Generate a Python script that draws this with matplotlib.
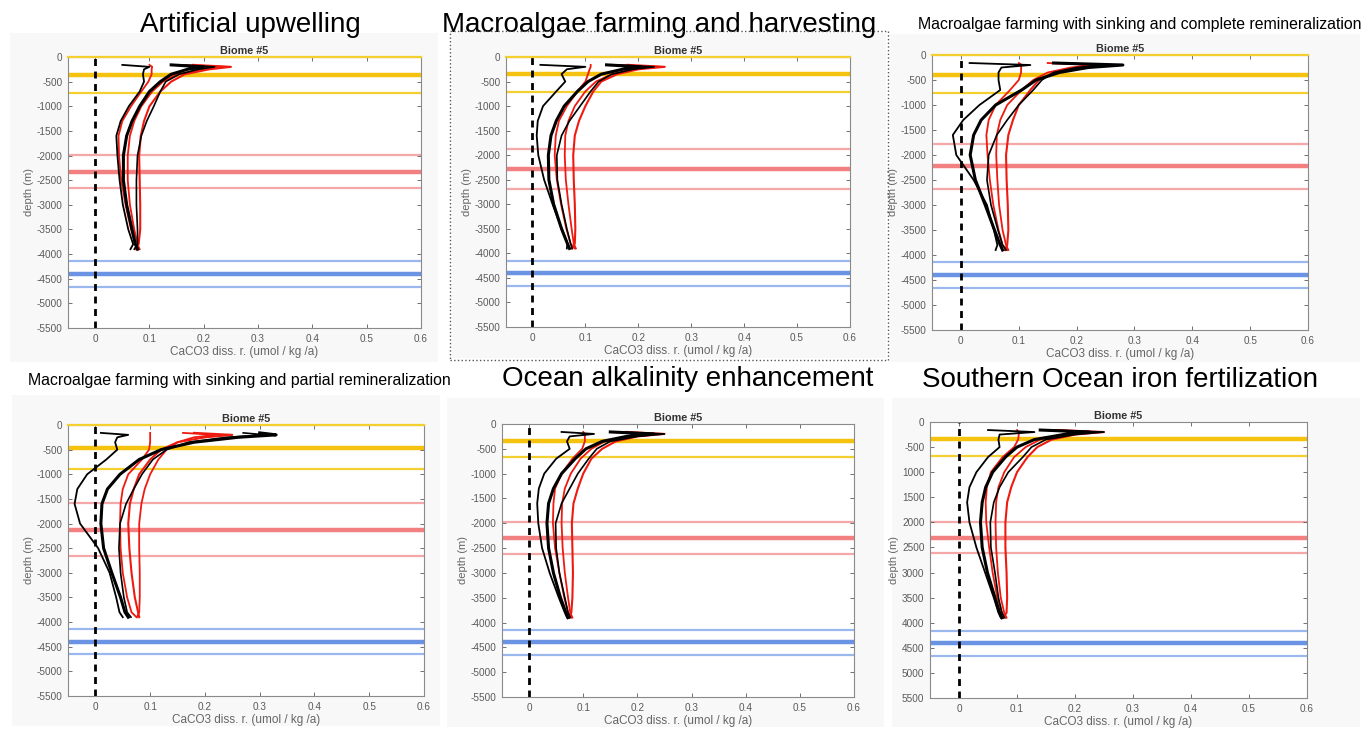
import matplotlib
matplotlib.use("Agg")
import matplotlib.pyplot as plt
from matplotlib.patches import Rectangle

plt.rcParams['font.family'] = ['Liberation Sans', 'DejaVu Sans']
plt.rcParams['axes.unicode_minus'] = False

# model depth levels (m) shared by every profile
DEPTH = [-160, -200, -250, -350, -500, -700, -1000, -1300, -1600,
         -2000, -2500, -3000, -3500, -3800, -3900]

# Artificial upwelling
AU_BLACK = [
    [0.05, 0.10, 0.09, 0.088, 0.09, 0.082, 0.062, 0.047, 0.039, 0.041, 0.045, 0.051, 0.061, 0.070, 0.065],
    [0.14, 0.20, 0.17, 0.14, 0.12, 0.10, 0.082, 0.068, 0.058, 0.052, 0.052, 0.058, 0.068, 0.074, 0.078],
    [0.15, 0.22, 0.19, 0.155, 0.13, 0.12, 0.108, 0.095, 0.085, 0.078, 0.076, 0.076, 0.078, 0.078, 0.072],
]
AU_RED = [
    [0.10, 0.105, 0.104, 0.104, 0.098, 0.085, 0.066, 0.05, 0.043, 0.044, 0.048, 0.056, 0.066, 0.074, 0.08],
    [0.18, 0.25, 0.21, 0.165, 0.14, 0.12, 0.10, 0.09, 0.084, 0.081, 0.082, 0.083, 0.083, 0.08, 0.075],
    [0.16, 0.24, 0.20, 0.15, 0.125, 0.105, 0.085, 0.072, 0.064, 0.06, 0.06, 0.064, 0.072, 0.078, 0.082],
]
AU_YELLOW = [0, -370, -730]
AU_PINK = [-1990, -2330, -2665]
AU_BLUE = [-4150, -4405, -4670]

# Macroalgae farming and harvesting
MFH_BLACK = [
    [0.015, 0.10, 0.065, 0.055, 0.062, 0.045, 0.02, 0.01, 0.008, 0.011, 0.022, 0.038, 0.055, 0.066, 0.065],
    [0.14, 0.205, 0.17, 0.13, 0.105, 0.085, 0.06, 0.045, 0.035, 0.03, 0.031, 0.04, 0.055, 0.066, 0.07],
    [0.15, 0.23, 0.19, 0.15, 0.125, 0.11, 0.09, 0.07, 0.055, 0.046, 0.047, 0.055, 0.065, 0.072, 0.075],
]
MFH_RED = [
    [0.11, 0.11, 0.108, 0.105, 0.10, 0.085, 0.065, 0.05, 0.044, 0.042, 0.046, 0.054, 0.064, 0.072, 0.08],
    [0.18, 0.25, 0.20, 0.16, 0.13, 0.115, 0.10, 0.088, 0.08, 0.077, 0.078, 0.08, 0.081, 0.08, 0.075],
    [0.15, 0.24, 0.19, 0.15, 0.12, 0.10, 0.08, 0.068, 0.062, 0.061, 0.063, 0.068, 0.074, 0.078, 0.082],
]
MFH_YELLOW = [0, -353, -720]
MFH_PINK = [-1880, -2275, -2680]
MFH_BLUE = [-4160, -4410, -4665]

# Macroalgae farming with sinking and complete remineralization
MSC_BLACK = [
    [0.015, 0.12, 0.07, 0.065, 0.065, 0.068, 0.032, 0.004, -0.014, -0.008, 0.022, 0.045, 0.057, 0.063, 0.06],
    [0.16, 0.28, 0.22, 0.17, 0.13, 0.105, 0.06, 0.035, 0.022, 0.016, 0.025, 0.042, 0.058, 0.068, 0.072],
    [0.17, 0.25, 0.20, 0.16, 0.14, 0.125, 0.10, 0.08, 0.062, 0.048, 0.045, 0.052, 0.064, 0.072, 0.078],
]
MSC_RED = [
    [0.10, 0.105, 0.104, 0.104, 0.10, 0.085, 0.06, 0.048, 0.044, 0.046, 0.05, 0.056, 0.065, 0.072, 0.08],
    [0.17, 0.24, 0.20, 0.16, 0.135, 0.12, 0.10, 0.09, 0.082, 0.078, 0.079, 0.081, 0.082, 0.08, 0.076],
    [0.15, 0.23, 0.19, 0.15, 0.125, 0.105, 0.08, 0.068, 0.062, 0.061, 0.063, 0.066, 0.072, 0.078, 0.082],
]
MSC_YELLOW = [0, -400, -767]
MSC_PINK = [-1780, -2213, -2673]
MSC_BLUE = [-4147, -4400, -4653]

# Macroalgae farming with sinking and partial remineralization
MSP_BLACK = [
    [0.01, 0.06, 0.04, 0.036, 0.04, 0.02, -0.015, -0.033, -0.038, -0.028, 0.005, 0.026, 0.038, 0.044, 0.05],
    [0.30, 0.33, 0.26, 0.18, 0.12, 0.08, 0.045, 0.022, 0.012, 0.01, 0.015, 0.03, 0.046, 0.054, 0.06],
    [0.27, 0.31, 0.24, 0.17, 0.13, 0.105, 0.085, 0.07, 0.056, 0.045, 0.043, 0.046, 0.052, 0.058, 0.065],
]
MSP_RED = [
    [0.10, 0.10, 0.10, 0.10, 0.098, 0.085, 0.06, 0.05, 0.046, 0.045, 0.046, 0.05, 0.058, 0.066, 0.075],
    [0.18, 0.25, 0.20, 0.15, 0.12, 0.10, 0.08, 0.07, 0.063, 0.06, 0.062, 0.066, 0.072, 0.078, 0.08],
    [0.16, 0.22, 0.18, 0.15, 0.13, 0.115, 0.10, 0.09, 0.084, 0.08, 0.08, 0.081, 0.081, 0.08, 0.076],
]
MSP_YELLOW = [0, -460, -893]
MSP_PINK = [-1590, -2131, -2652]
MSP_BLUE = [-4147, -4397, -4654]

# Ocean alkalinity enhancement
OAE_BLACK = [
    [0.06, 0.12, 0.075, 0.07, 0.075, 0.05, 0.028, 0.018, 0.015, 0.017, 0.024, 0.038, 0.055, 0.066, 0.07],
    [0.15, 0.23, 0.18, 0.135, 0.105, 0.085, 0.06, 0.045, 0.036, 0.033, 0.036, 0.045, 0.058, 0.068, 0.072],
    [0.16, 0.25, 0.20, 0.15, 0.125, 0.11, 0.09, 0.075, 0.06, 0.049, 0.05, 0.056, 0.066, 0.072, 0.076],
]
OAE_RED = [
    [0.10, 0.103, 0.103, 0.103, 0.098, 0.08, 0.06, 0.048, 0.045, 0.044, 0.048, 0.056, 0.065, 0.072, 0.078],
    [0.18, 0.25, 0.20, 0.16, 0.135, 0.115, 0.10, 0.09, 0.082, 0.079, 0.08, 0.081, 0.08, 0.078, 0.074],
    [0.15, 0.22, 0.18, 0.14, 0.115, 0.095, 0.077, 0.066, 0.061, 0.06, 0.062, 0.066, 0.072, 0.076, 0.08],
]
OAE_YELLOW = [-337, -673]
OAE_PINK = [-1966, -2289, -2625]
OAE_BLUE = [-4154, -4402, -4645]

# Southern Ocean iron fertilization
SOIF_BLACK = [
    [0.05, 0.13, 0.07, 0.068, 0.07, 0.05, 0.03, 0.018, 0.014, 0.018, 0.03, 0.045, 0.06, 0.068, 0.072],
    [0.14, 0.225, 0.18, 0.13, 0.10, 0.08, 0.058, 0.046, 0.04, 0.037, 0.04, 0.049, 0.062, 0.07, 0.074],
    [0.15, 0.25, 0.20, 0.15, 0.125, 0.11, 0.085, 0.07, 0.06, 0.054, 0.055, 0.062, 0.068, 0.074, 0.078],
]
SOIF_RED = [
    [0.10, 0.103, 0.103, 0.102, 0.095, 0.075, 0.055, 0.048, 0.046, 0.047, 0.052, 0.058, 0.066, 0.074, 0.08],
    [0.17, 0.25, 0.20, 0.16, 0.135, 0.118, 0.10, 0.09, 0.083, 0.08, 0.08, 0.082, 0.083, 0.082, 0.076],
    [0.15, 0.225, 0.18, 0.14, 0.115, 0.095, 0.078, 0.068, 0.064, 0.063, 0.064, 0.067, 0.072, 0.078, 0.082],
]
SOIF_YELLOW = [-333, -686]
SOIF_PINK = [-1998, -2310, -2616]
SOIF_BLUE = [-4162, -4407, -4660]

Y_TICKS = list(range(0, -5501, -500))
X_TICKS = [0, 0.1, 0.2, 0.3, 0.4, 0.5, 0.6]
SOIF_YLABELS = ['0', '-500', '1000', '1500', '2000', '2500', '3000',
                '3500', '4000', '4500', '5000', '5500']

W, H = 1365, 730


def px_box(left, top, right, bottom):
    return [left / W, 1 - bottom / H, (right - left) / W, (bottom - top) / H]


def ref_lines(ax, levels, thin, thick):
    mid = 1 if len(levels) == 3 else 0
    for i, y in enumerate(levels):
        # a level sitting on the surface is drawn over the top spine
        extra = dict(clip_on=False, zorder=2.6) if y == 0 else dict(zorder=1)
        if i == mid:
            ax.axhline(y, color=thick, lw=3.2, **extra)
        else:
            ax.axhline(y, color=thin, lw=1.6, **extra)


def draw_panel(ax, black, red, yellow, pink, blue, ylabels=None):
    ax.set_facecolor('white')
    ref_lines(ax, yellow, '#f4cf30', '#f4c20f')
    ref_lines(ax, pink, '#f5a8a8', '#f28080')
    ref_lines(ax, blue, '#9bb8ee', '#6a93e3')
    ax.axvline(0, color='black', lw=2.0, ls=(0, (2.5, 2)), zorder=2)
    for xs, lw in zip(red, [1.3, 1.5, 1.3]):
        ax.plot(xs, DEPTH, color='#ee1a10', lw=lw, zorder=3)
    for xs, lw in zip(black, [1.3, 2.2, 1.2]):
        ax.plot(xs, DEPTH, color='black', lw=lw, zorder=4)
    ax.set_xlim(-0.05, 0.6)
    ax.set_ylim(-5500, 0)
    ax.set_xticks(X_TICKS)
    ax.set_xticklabels(['0', '0.1', '0.2', '0.3', '0.4', '0.5', '0.6'])
    ax.set_yticks(Y_TICKS)
    if ylabels is not None:
        ax.set_yticklabels(ylabels)
    ax.tick_params(direction='in', top=True, right=True, length=3, width=0.6,
                   labelsize=7.2, colors='#5a5a5a', pad=4)
    for s in ax.spines.values():
        s.set_color('#8a8a8a')
        s.set_linewidth(0.8)
    ax.set_title('Biome #5', fontsize=7.8, fontweight='bold', color='#333333', pad=2)
    ax.set_xlabel('CaCO3 diss. r. (umol / kg /a)', fontsize=8.5, color='#666666', labelpad=2)
    ax.set_ylabel('depth (m)', fontsize=8, color='#666666', labelpad=2)


fig = plt.figure(figsize=(W / 100, H / 100), dpi=100)
fig.patch.set_facecolor('white')

# light grey backdrops behind each panel
for x0, y0, x1, y1 in [(10, 33, 438, 362), (452, 33, 886, 358), (890, 34, 1360, 362),
                       (12, 395, 440, 726), (447, 398, 884, 727), (892, 398, 1360, 727)]:
    fig.patches.append(Rectangle((x0 / W, 1 - y1 / H), (x1 - x0) / W, (y1 - y0) / H,
                                 transform=fig.transFigure, facecolor='#f8f8f8',
                                 edgecolor='none', zorder=-5))

panels = [
    (px_box(68, 57, 421, 328), AU_BLACK, AU_RED, AU_YELLOW, AU_PINK, AU_BLUE, None),
    (px_box(506, 57, 850, 327), MFH_BLACK, MFH_RED, MFH_YELLOW, MFH_PINK, MFH_BLUE, None),
    (px_box(932, 55, 1308, 330), MSC_BLACK, MSC_RED, MSC_YELLOW, MSC_PINK, MSC_BLUE, None),
    (px_box(68, 425, 424, 696), MSP_BLACK, MSP_RED, MSP_YELLOW, MSP_PINK, MSP_BLUE, None),
    (px_box(502, 424, 854, 697), OAE_BLACK, OAE_RED, OAE_YELLOW, OAE_PINK, OAE_BLUE, None),
    (px_box(930, 422, 1307, 698), SOIF_BLACK, SOIF_RED, SOIF_YELLOW, SOIF_PINK, SOIF_BLUE, SOIF_YLABELS),
]
for box, black, red, yellow, pink, blue, ylabels in panels:
    ax = fig.add_axes(box)
    draw_panel(ax, black, red, yellow, pink, blue, ylabels)

# dotted frame round the harvesting panel
fig.patches.append(Rectangle((450 / W, 1 - 360 / H), 438 / W, 329 / H,
                             transform=fig.transFigure, fill=False,
                             edgecolor='#555555', lw=1.0, ls=':', zorder=5))

fig.text(250 / W, 1 - 25 / H, 'Artificial upwelling', fontsize=20, ha='center', va='center')
fig.text(659 / W, 1 - 25 / H, 'Macroalgae farming and harvesting', fontsize=20,
         ha='center', va='center')
fig.text(1140 / W, 1 - 25 / H, 'Macroalgae farming with sinking and complete remineralization',
         fontsize=11.4, ha='center', va='center')
fig.text(239 / W, 1 - 380 / H, 'Macroalgae farming with sinking and partial remineralization',
         fontsize=11.4, ha='center', va='center')
fig.text(688 / W, 1 - 379 / H, 'Ocean alkalinity enhancement', fontsize=20,
         ha='center', va='center')
fig.text(1120 / W, 1 - 380 / H, 'Southern Ocean iron fertilization', fontsize=20,
         ha='center', va='center')

fig.savefig('out.png', dpi=100)
